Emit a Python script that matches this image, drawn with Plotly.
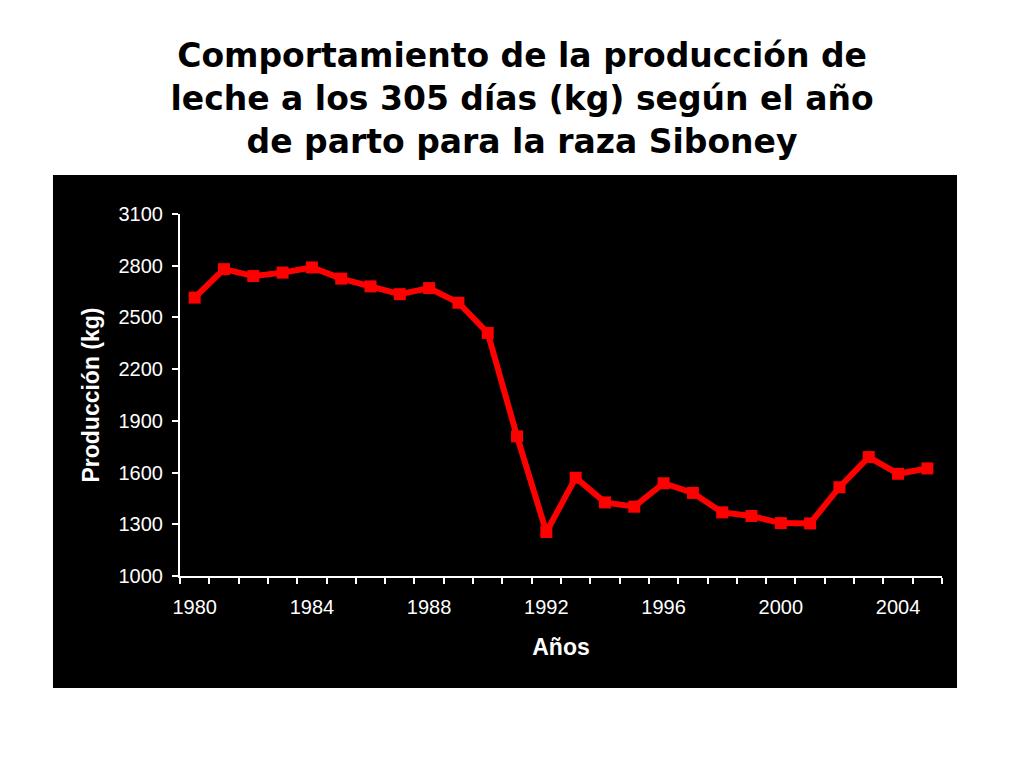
import plotly.graph_objects as go

# Producción de leche a los 305 días (kg), raza Siboney
years = list(range(1980, 2006))
produccion = [2615, 2780, 2740, 2760, 2790, 2725, 2680, 2635, 2670, 2585,
              2410, 1810, 1255, 1570, 1427, 1402, 1538, 1482, 1369, 1348,
              1307, 1305, 1515, 1690, 1593, 1624]
tick_years = years[::4]
y_ticks = list(range(1000, 3101, 300))

title_txt = ('Comportamiento de la producción de<br>'
             'leche a los 305 días (kg) según el año<br>'
             'de parto para la raza Siboney')

trace = go.Scatter(
    x=years, y=produccion, mode='lines+markers',
    line=dict(color='#ff0000', width=6),
    marker=dict(symbol='square', size=12, color='#ff0000'),
    showlegend=False, hoverinfo='x+y'
)

fig = go.Figure(data=[trace])

axis_font = dict(family='Liberation Sans, Arial, sans-serif', size=20, color='white')
label_font = dict(family='Liberation Sans, Arial, sans-serif', size=23, color='white', weight='bold')

fig.update_layout(
    width=1024, height=768,
    paper_bgcolor='white', plot_bgcolor='black',
    margin=dict(l=172, r=90, t=206, b=200),
    title=dict(text=title_txt, x=0.502, xref='container', xanchor='center',
               y=1 - 59 / 768, yref='container', yanchor='middle',
               font=dict(family='DejaVu Sans, sans-serif', size=33,
                         color='black', weight='bold')),
    shapes=[dict(type='rect', xref='paper', yref='paper',
                 x0=-0.1667, x1=1.0197, y0=-0.3094, y1=1.1077,
                 fillcolor='black', line=dict(width=0), layer='below')],
)

fig.update_xaxes(
    range=[years[0] - 0.5, years[-1] + 0.5],
    tickmode='array', tickvals=tick_years, ticktext=[str(y) for y in tick_years],
    ticks='', tickfont=axis_font, ticklabelstandoff=12,
    minor=dict(tickmode='linear', tick0=years[0] - 0.5, dtick=1,
               ticks='outside', ticklen=6, tickwidth=2, tickcolor='white'),
    showline=True, linecolor='white', linewidth=2,
    showgrid=False, zeroline=False,
    title=dict(text='Años', font=label_font, standoff=22),
)

fig.update_yaxes(
    range=[y_ticks[0], y_ticks[-1]],
    tickmode='array', tickvals=y_ticks,
    ticks='outside', ticklen=6, tickwidth=2, tickcolor='white',
    tickfont=axis_font, ticklabelstandoff=5,
    showline=True, linecolor='white', linewidth=2,
    showgrid=False, zeroline=False,
    title=dict(text='Producción (kg)', font=label_font, standoff=12),
)

fig.write_html('out.html')
